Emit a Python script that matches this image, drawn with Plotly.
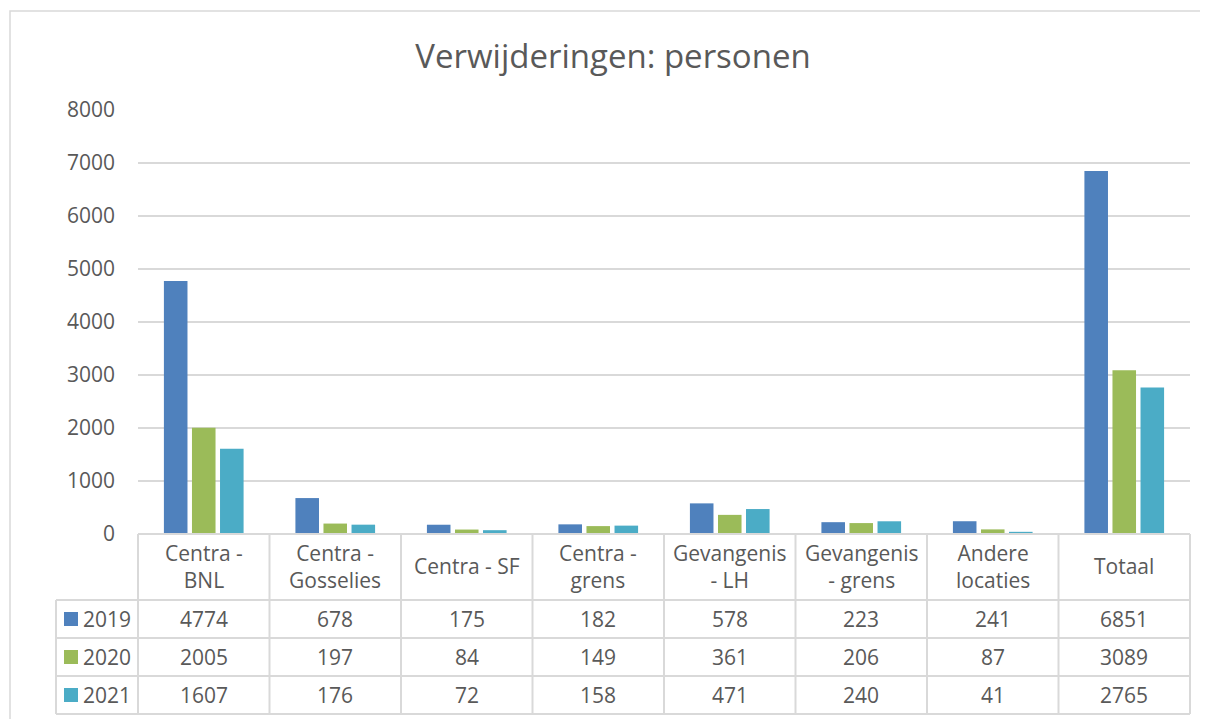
import plotly.graph_objects as go

categories = ["Centra - BNL", "Centra - Gosselies", "Centra - SF", "Centra - grens",
              "Gevangenis - LH", "Gevangenis - grens", "Andere locaties", "Totaal"]
header_labels = ["Centra -<br>BNL", "Centra -<br>Gosselies", "Centra - SF", "Centra -<br>grens",
                 "Gevangenis<br>- LH", "Gevangenis<br>- grens", "Andere<br>locaties", "Totaal"]
series_names = ["2019", "2020", "2021"]
values_2019 = [4774, 678, 175, 182, 578, 223, 241, 6851]
values_2020 = [2005, 197, 84, 149, 361, 206, 87, 3089]
values_2021 = [1607, 176, 72, 158, 471, 240, 41, 2765]
colors = ["#4F81BD", "#9BBB59", "#4BACC6"]
series_values = [values_2019, values_2020, values_2021]

OFF = 8  # page body margin
W, H = 1208, 719
L, R, T, B = 138 - OFF, 1190 - OFF, 110 - OFF, 534 - OFF  # plot area in fig px
pw, ph = R - L, B - T

def px_x(x):  # x in screen px
    return (x - OFF - L) / pw

def px_y(y):  # y in screen px
    return (B - (y - OFF)) / ph

FONT = "'Open Sans', Lato, sans-serif"
GREY = "#595959"
LINE = "#D9D9D9"
FS = 21

fig = go.Figure()
xs = list(range(len(categories)))
for name, vals, col in zip(series_names, series_values, colors):
    fig.add_trace(go.Bar(x=xs, y=vals, name=name, marker=dict(color=col, line=dict(width=0)),
                         showlegend=False, hoverinfo="x+y+name"))

shapes = []
annotations = []
# outer chart border
shapes.append(dict(type="rect", xref="paper", yref="paper", x0=px_x(10), x1=px_x(1260),
                   y0=px_y(780), y1=px_y(11), line=dict(color=LINE, width=1.5), layer="below"))

row_lines = [600, 638, 676, 714]
n = len(categories)
shapes.append(dict(type="line", xref="paper", yref="paper", x0=0, x1=1, y0=px_y(534), y1=px_y(534),
                   line=dict(color=LINE, width=2)))
for ry in row_lines:
    shapes.append(dict(type="line", xref="paper", yref="paper", x0=px_x(56), x1=1, y0=px_y(ry), y1=px_y(ry),
                       line=dict(color=LINE, width=2)))
for i in range(n + 1):
    shapes.append(dict(type="line", xref="paper", yref="paper", x0=i / n, x1=i / n,
                       y0=px_y(534), y1=px_y(714), line=dict(color=LINE, width=2)))
shapes.append(dict(type="line", xref="paper", yref="paper", x0=px_x(56), x1=px_x(56),
                   y0=px_y(600), y1=px_y(714), line=dict(color=LINE, width=2)))

for i, lab in enumerate(header_labels):
    annotations.append(dict(xref="paper", yref="paper", x=(i + 0.5) / n, y=px_y(566), text=lab,
                            showarrow=False, font=dict(size=FS, color=GREY, family=FONT),
                            xanchor="center", yanchor="middle", align="center"))
for r, (name, vals, col) in enumerate(zip(series_names, series_values, colors)):
    yc = (row_lines[r] + row_lines[r + 1]) / 2
    for i, v in enumerate(vals):
        annotations.append(dict(xref="paper", yref="paper", x=(i + 0.5) / n, y=px_y(yc), text=str(v),
                                showarrow=False, font=dict(size=FS, color=GREY, family=FONT),
                                xanchor="center", yanchor="middle"))
    shapes.append(dict(type="rect", xref="paper", yref="paper", x0=px_x(64), x1=px_x(78),
                       y0=px_y(yc + 7), y1=px_y(yc - 7), fillcolor=col, line=dict(width=0)))
    annotations.append(dict(xref="paper", yref="paper", x=px_x(81), y=px_y(yc), text=name,
                            showarrow=False, font=dict(size=FS, color=GREY, family=FONT),
                            xanchor="left", yanchor="middle"))

fig.update_layout(
    width=W, height=H,
    margin=dict(l=L, r=W - R, t=T, b=H - B),
    paper_bgcolor="white", plot_bgcolor="white",
    title=dict(text="Verwijderingen: personen", x=(613 - OFF) / W, xref="container", xanchor="center",
               y=1 - (56 - OFF) / H, yanchor="middle", font=dict(size=33, color=GREY, family=FONT)),
    barmode="group", bargap=0.36, bargroupgap=0.16,
    xaxis=dict(range=[-0.5, n - 0.5], showticklabels=False, showgrid=False, zeroline=False,
               showline=False, ticks=""),
    yaxis=dict(range=[0, 8000], dtick=1000, showgrid=True, gridcolor=LINE, gridwidth=1.5,
               zeroline=False, showline=False, ticks="", ticklabelstandoff=22,
               tickfont=dict(size=FS, color=GREY, family=FONT)),
    shapes=shapes, annotations=annotations,
    font=dict(family=FONT, color=GREY),
)

fig.write_html("out.html")
